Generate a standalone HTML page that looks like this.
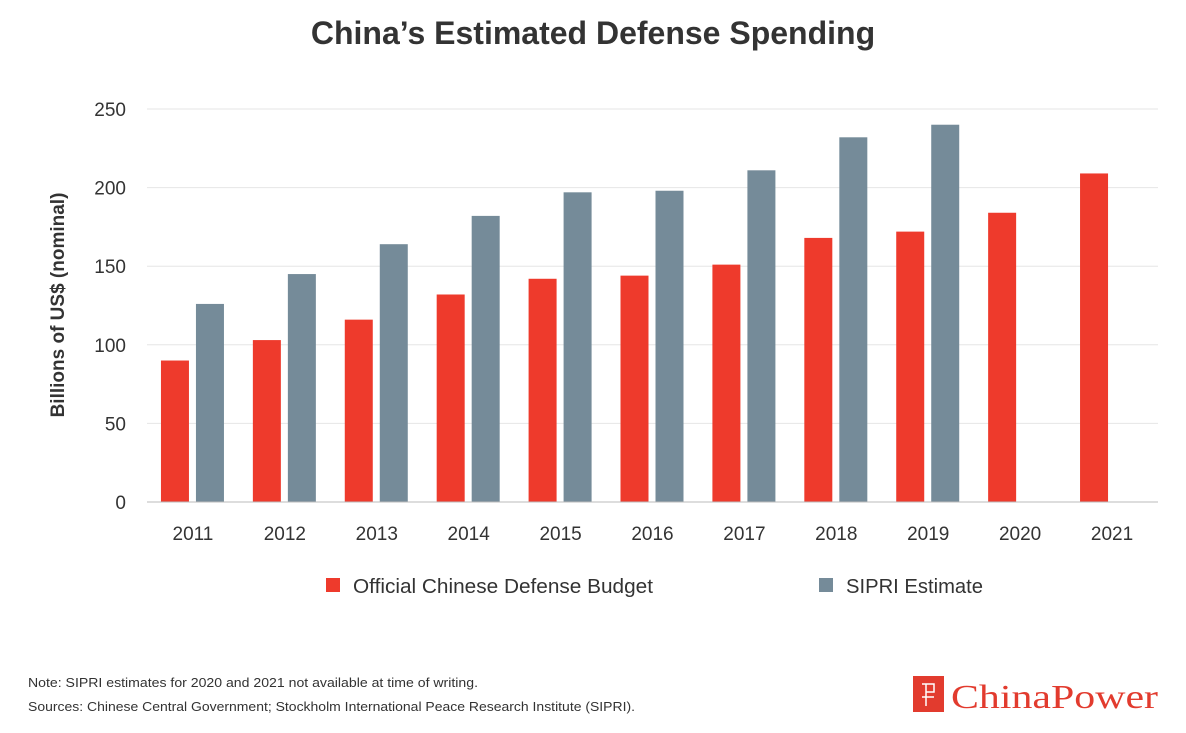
<!DOCTYPE html>
<html><head><meta charset="utf-8"><style>
html,body{margin:0;padding:0;background:#fff;width:1186px;height:733px;overflow:hidden;font-family:"Liberation Sans",sans-serif;}
</style></head><body>
<svg width="1186" height="733" xmlns="http://www.w3.org/2000/svg">
<text x="593" y="44" text-anchor="middle" font-size="32" font-weight="bold" fill="#333">China’s Estimated Defense Spending</text>
<g id="grid"></g>
<g id="bars"></g>
<g id="axes"></g>
<text transform="translate(64,305) rotate(-90)" text-anchor="middle" font-size="19" font-weight="bold" fill="#333">Billions of US$ (nominal)</text>
<g>
<rect x="326" y="578" width="14" height="14" fill="#ee3a2c"/>
<text x="353" y="593" font-size="20" fill="#333" textLength="300" lengthAdjust="spacingAndGlyphs">Official Chinese Defense Budget</text>
<rect x="819" y="578" width="14" height="14" fill="#758b99"/>
<text x="846" y="593" font-size="20" fill="#333" textLength="137" lengthAdjust="spacingAndGlyphs">SIPRI Estimate</text>
</g>
<text x="28" y="687" font-size="13" fill="#333" textLength="450" lengthAdjust="spacingAndGlyphs">Note: SIPRI estimates for 2020 and 2021 not available at time of writing.</text>
<text x="28" y="711" font-size="13" fill="#333" textLength="607" lengthAdjust="spacingAndGlyphs">Sources: Chinese Central Government; Stockholm International Peace Research Institute (SIPRI).</text>
<g>
<rect x="913" y="676" width="31" height="36" fill="#e23b2e"/>
<path d="M922 684 h12 v8 h-8 M926 684 v22 M922 697 h12" stroke="#fff" stroke-width="1.5" fill="none"/>
<text x="951" y="708" font-family="Liberation Serif,serif" font-size="34" fill="#e23b2e" textLength="207" lengthAdjust="spacingAndGlyphs">ChinaPower</text>
</g>
</svg>
<script>
const categories=["2011","2012","2013","2014","2015","2016","2017","2018","2019","2020","2021"];
const officialValues=[90,103,116,132,142,144,151,168,172,184,209];
const sipriValues=[126,145,164,182,197,198,211,232,240,null,null];
const yTicks=[0,50,100,150,200,250];
const NS="http://www.w3.org/2000/svg";
const plotL=147,plotR=1158,y0=502,y250=109;
const yScale=v=>y0-(v/250)*(y0-y250);
const band=(plotR-plotL)/categories.length;
const xCenter=i=>plotL+band*(i+0.5);
function mk(tag,attrs,parent){const e=document.createElementNS(NS,tag);for(const k in attrs)e.setAttribute(k,attrs[k]);parent.appendChild(e);return e;}
const grid=document.getElementById('grid'),bars=document.getElementById('bars'),axes=document.getElementById('axes');
yTicks.forEach(t=>{
  const y=yScale(t);
  if(t>0){const l=mk('line',{x1:plotL,x2:plotR,y1:y,y2:y,stroke:'#e6e6e6','stroke-width':1},grid);
  
  }
  const tx=mk('text',{x:126,y:y+7,'text-anchor':'end','font-size':19,fill:'#333'},axes);
  tx.textContent=t;
  
  
});
const base=mk('line',{x1:plotL,x2:plotR,y1:y0,y2:y0,stroke:'#bbb','stroke-width':1},axes);


categories.forEach((c,i)=>{
  const cx=xCenter(i);
  const tx=mk('text',{x:cx,y:540,'text-anchor':'middle','font-size':19,fill:'#333'},axes);
  tx.textContent=c;
  
  
  const ov=officialValues[i];
  if(ov!=null){const r=mk('rect',{x:cx-32,y:yScale(ov),width:28,height:y0-yScale(ov),fill:'#ee3a2c'},bars);
  
  }
  const sv=sipriValues[i];
  if(sv!=null){const r=mk('rect',{x:cx+3,y:yScale(sv),width:28,height:y0-yScale(sv),fill:'#758b99'},bars);
  
  }
});
</script>
</body></html>
